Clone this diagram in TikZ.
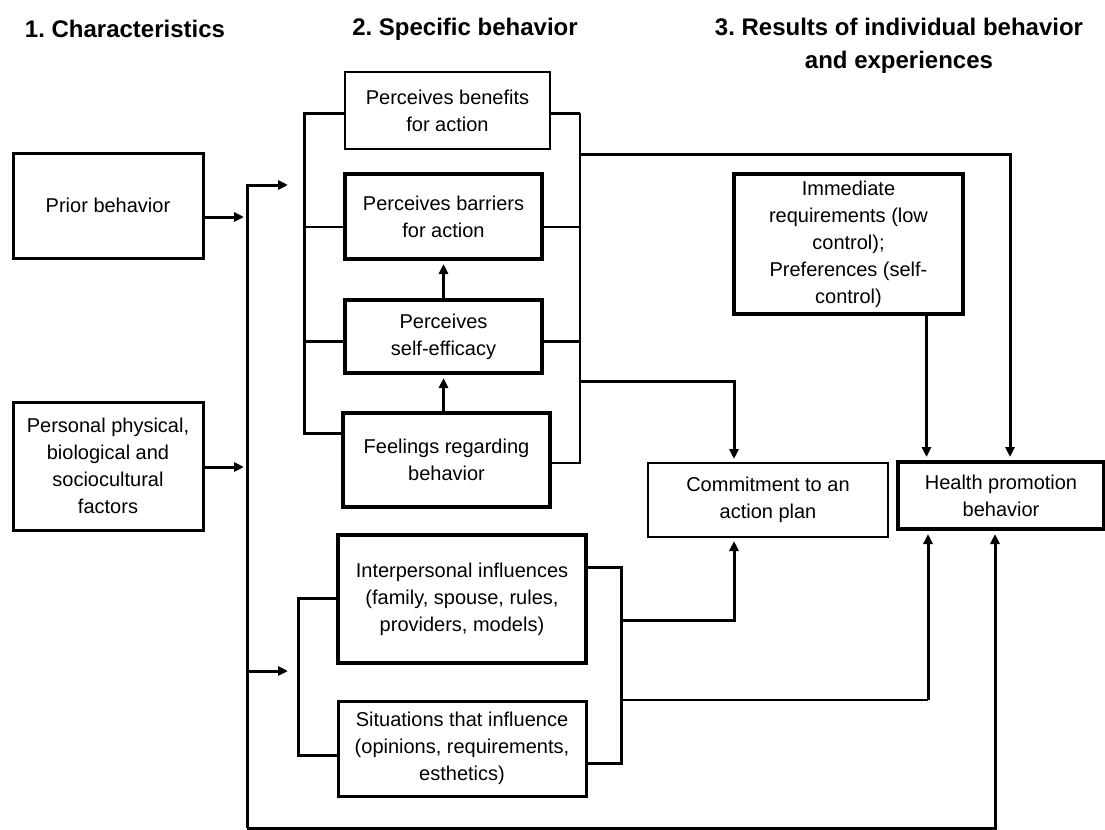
\documentclass[tikz,border=0pt]{standalone}
\usepackage{fontspec}
\setmainfont{Liberation Sans}
\usetikzlibrary{arrows.meta}
\frenchspacing

\begin{document}
\begin{tikzpicture}[x=0.5pt, y=-0.5pt,
	every node/.style={font=\fontsize{10}{13.5}\selectfont, align=center, inner sep=0pt},
	head/.style={font=\fontsize{12}{16.5}\selectfont\bfseries},
	box/.style={draw, line width=1pt},
	midbox/.style={draw, line width=1.5pt},
	thickbox/.style={draw, line width=2pt},
	link/.style={line width=1.5pt},
	thinlink/.style={line width=0.9pt},
	arr/.style={-{Triangle[length=5pt,width=4.5pt]}, shorten >=1.5pt}]
	\useasboundingbox (0,0) rectangle (1105,830);

	% column headers
	\node[head] (h1) at (125,29) {1. Characteristics};
	\node[head] (h2) at (465,29) {2. Specific behavior};
	\node[head] (h3) at (899,45.5) {3. Results of individual behavior\\and experiences};

	% characteristics
	\node[midbox, minimum width=95pt, minimum height=52.5pt] (prior) at (108,205.5) {Prior behavior};
	\node[midbox, minimum width=95pt, minimum height=64pt] (pers) at (108,466) {Personal physical,\\biological and\\sociocultural\\factors};

	% specific behavior
	\node[box, minimum width=102.5pt, minimum height=38.5pt] (benef) at (447.5,110.5) {Perceives benefits\\for action};
	\node[thickbox, minimum width=98.5pt, minimum height=42.5pt] (barr) at (443.5,216.5) {Perceives barriers\\for action};
	\node[thickbox, minimum width=98.5pt, minimum height=36.5pt] (selfeff) at (443.5,336.5) {Perceives\\self-efficacy};
	\node[thickbox, minimum width=103.5pt, minimum height=47pt] (feel) at (446.5,460) {Feelings regarding\\behavior};
	\node[thickbox, minimum width=124pt, minimum height=64pt] (inter) at (462,599) {Interpersonal influences\\(family, spouse, rules,\\providers, models)};
	\node[midbox, minimum width=124pt, minimum height=47.5pt] (sit) at (462,748.5) {Situations that influence\\(opinions, requirements,\\esthetics)};

	% results
	\node[thickbox, minimum width=114.5pt, minimum height=70pt] (immed) at (848.5,244) {Immediate\\requirements (low\\control);\\Preferences (self-\\control)};
	\node[box, minimum width=120pt, minimum height=37pt] (commit) at (768,500) {Commitment to an\\action plan};
	\node[thickbox, minimum width=103pt, minimum height=33.5pt] (health) at (1001,495.5) {Health promotion\\behavior};

	% junction points
	\coordinate (trtop) at (247,185);
	\coordinate (trbot) at (247,828);
	\coordinate (inprior) at (247,217);
	\coordinate (inpers) at (247,467);
	\coordinate (inlow) at (247,671);
	\coordinate (topin) at (291,185);
	\coordinate (lowin) at (291,671);
	\coordinate (ulbt) at (304,113);
	\coordinate (ulbb) at (304,433);
	\coordinate (urbt) at (580,113);
	\coordinate (urbb) at (580,463);
	\coordinate (outhp) at (580,154);
	\coordinate (outcm) at (580,381);
	\coordinate (llbt) at (298,598);
	\coordinate (llbb) at (298,755);
	\coordinate (lrbt) at (621,567);
	\coordinate (lrbb) at (621,763);
	\coordinate (lowcm) at (621,620);
	\coordinate (lowhp) at (621,700);
	\coordinate (cornhp) at (928,700);
	\coordinate (bothp) at (995,828);

	% left trunk
	\draw[link, arr] (prior.east |- inprior) -- (inprior);
	\draw[link, arr] (pers.east |- inpers) -- (inpers);
	\draw[link, arr] (trbot) -- (trtop) -- (topin);
	\draw[link, arr] (inlow) -- (lowin);
	\draw[link, arr] (trbot) -- (bothp) -- (bothp |- health.south);

	% upper group brackets
	\draw[link] (benef.west |- ulbt) -- (ulbt) -- (ulbb) -- (ulbb -| feel.west);
	\draw[thinlink] (barr.west |- 304,227) -- (304,227);
	\draw[link] (selfeff.west |- 304,341) -- (304,341);
	\draw[link] (benef.east |- urbt) -- (urbt);
	\draw[thinlink] (urbt) -- (urbb) -- (urbb -| feel.east);
	\draw[thinlink] (barr.east |- 580,227) -- (580,227);
	\draw[link] (selfeff.east |- 580,341) -- (580,341);
	\draw[link, arr] (selfeff.north) -- (barr.south);
	\draw[link, arr] (selfeff.south |- feel.north) -- (selfeff.south);

	% lower group brackets
	\draw[link] (inter.west |- llbt) -- (llbt) -- (llbb) -- (llbb -| sit.west);
	\draw[link] (inter.east |- lrbt) -- (lrbt) -- (lrbb) -- (lrbb -| sit.east);

	% to commitment and health promotion
	\draw[link, arr] (outhp) -| ([xshift=4.5pt]health.north);
	\draw[link, arr] (outcm) -| ([xshift=-17pt]commit.north);
	\draw[link, arr] (lowcm) -| ([xshift=-17pt]commit.south);
	\draw[thinlink] (lowhp) -- (cornhp);
	\draw[link, arr] (cornhp) -- (cornhp |- health.south);
	\draw[link, arr] ([xshift=39pt]immed.south) -- ([xshift=39pt]immed.south |- health.north);
\end{tikzpicture}
\end{document}
